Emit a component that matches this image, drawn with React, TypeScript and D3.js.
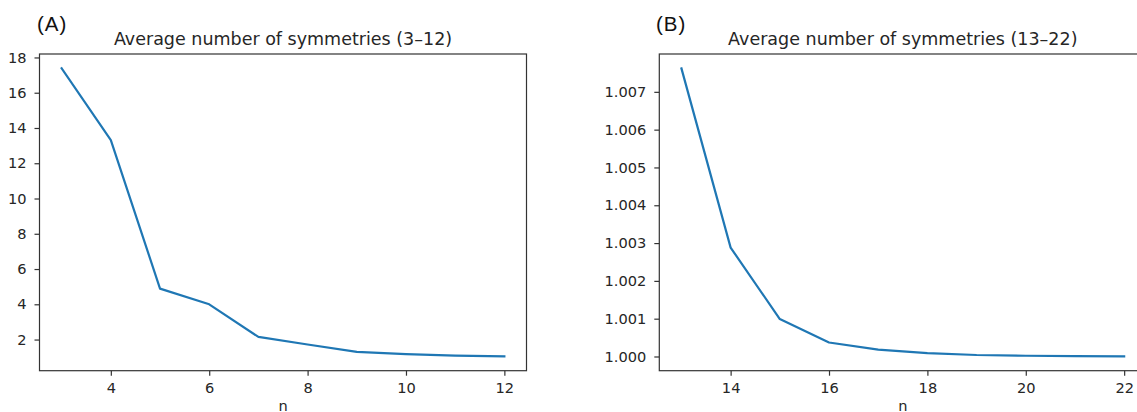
import React, { useEffect, useRef } from 'react';
import * as d3 from 'd3';

// panel A: n = 3..12
const nA = [3, 4, 5, 6, 7, 8, 9, 10, 11, 12];
const avgA = [17.38, 13.31, 4.89, 4.0, 2.15, 1.72, 1.3, 1.17, 1.09, 1.05];
const xTicksA = [4, 6, 8, 10, 12];
const yTicksA = [2, 4, 6, 8, 10, 12, 14, 16, 18];

// panel B: n = 13..22
const nB = [13, 14, 15, 16, 17, 18, 19, 20, 21, 22];
const avgB = [1.00762, 1.00288, 1.00099, 1.00037, 1.00018, 1.00009, 1.00004, 1.00002, 1.00001, 1.000005];
const xTicksB = [14, 16, 18, 20, 22];
const yTicksB = [1.0, 1.001, 1.002, 1.003, 1.004, 1.005, 1.006, 1.007];

const FONT = '"DejaVu Sans", sans-serif';
const TEXT = '#262626';

// matplotlib-style 5% margins round the data
const padded = (vals: number[]): [number, number] => {
  const [lo, hi] = d3.extent(vals) as [number, number];
  const m = (hi - lo) * 0.05;
  return [lo - m, hi + m];
};

type PanelProps = {
  xs: number[];
  ys: number[];
  xTicks: number[];
  yTicks: number[];
  yFormat: (d: number) => string;
  title: string;
  letter: string;
  left: number;
  letterX: number;
};

function Panel({ xs, ys, xTicks, yTicks, yFormat, title, letter, left, letterX }: PanelProps) {
  const ref = useRef<SVGGElement>(null);
  const top = 54;
  const width = 487;
  const height = 316.7;

  useEffect(() => {
    const g = d3.select(ref.current);
    g.selectAll('*').remove();

    const x = d3.scaleLinear().domain(padded(xs)).range([left, left + width]);
    const y = d3.scaleLinear().domain(padded(ys)).range([top + height, top]);

    const line = d3.line<number>()
      .x((_, i) => x(xs[i]))
      .y(d => y(d));

    g.append('path')
      .datum(ys)
      .attr('d', line)
      .attr('fill', 'none')
      .attr('stroke', '#1f77b4')
      .attr('stroke-width', 2.2)
      .attr('stroke-linejoin', 'round')
      .attr('stroke-linecap', 'square');

    const xAxis = g.append('g')
      .attr('transform', `translate(0,${top + height})`)
      .call(d3.axisBottom(x).tickValues(xTicks).tickSize(5).tickPadding(7).tickFormat(d3.format('d')));

    const yAxis = g.append('g')
      .attr('transform', `translate(${left},0)`)
      .call(d3.axisLeft(y).tickValues(yTicks).tickSize(5).tickPadding(8).tickFormat(d => yFormat(+d)));

    [xAxis, yAxis].forEach(a => {
      a.select('.domain').remove();
      a.selectAll('line').attr('stroke', '#333').attr('stroke-width', 1.2);
      a.selectAll('text')
        .attr('fill', TEXT)
        .style('font-family', FONT)
        .style('font-size', '14.6px');
    });

    // axes frame
    g.append('rect')
      .attr('x', left)
      .attr('y', top)
      .attr('width', width)
      .attr('height', height)
      .attr('fill', 'none')
      .attr('stroke', '#333')
      .attr('stroke-width', 1.2);

    g.append('text')
      .attr('x', left + width / 2)
      .attr('y', 45)
      .attr('text-anchor', 'middle')
      .attr('fill', TEXT)
      .style('font-family', FONT)
      .style('font-size', '17.5px')
      .text(title);

    g.append('text')
      .attr('x', left + width / 2)
      .attr('y', 411)
      .attr('text-anchor', 'middle')
      .attr('fill', TEXT)
      .style('font-family', FONT)
      .style('font-size', '14.6px')
      .text('n');

    g.append('text')
      .attr('x', letterX)
      .attr('y', 30.7)
      .attr('fill', '#111')
      .style('font-family', '"Liberation Sans", Arial, sans-serif')
      .style('font-size', '20.5px')
      .style('letter-spacing', '1px')
      .text(letter);
  }, []);

  return <g ref={ref} />;
}

export default function App() {
  return (
    <svg
      width={1137}
      height={412}
      style={{ position: 'absolute', left: 0, top: 0, background: '#fff' }}
    >
      <rect width={1137} height={412} fill="#fff" />
      <Panel
        xs={nA}
        ys={avgA}
        xTicks={xTicksA}
        yTicks={yTicksA}
        yFormat={d => d3.format('d')(d)}
        title="Average number of symmetries (3–12)"
        letter="(A)"
        left={39.5}
        letterX={37}
      />
      <Panel
        xs={nB}
        ys={avgB}
        xTicks={xTicksB}
        yTicks={yTicksB}
        yFormat={d => d3.format('.3f')(d)}
        title="Average number of symmetries (13–22)"
        letter="(B)"
        left={659.3}
        letterX={656}
      />
    </svg>
  );
}
